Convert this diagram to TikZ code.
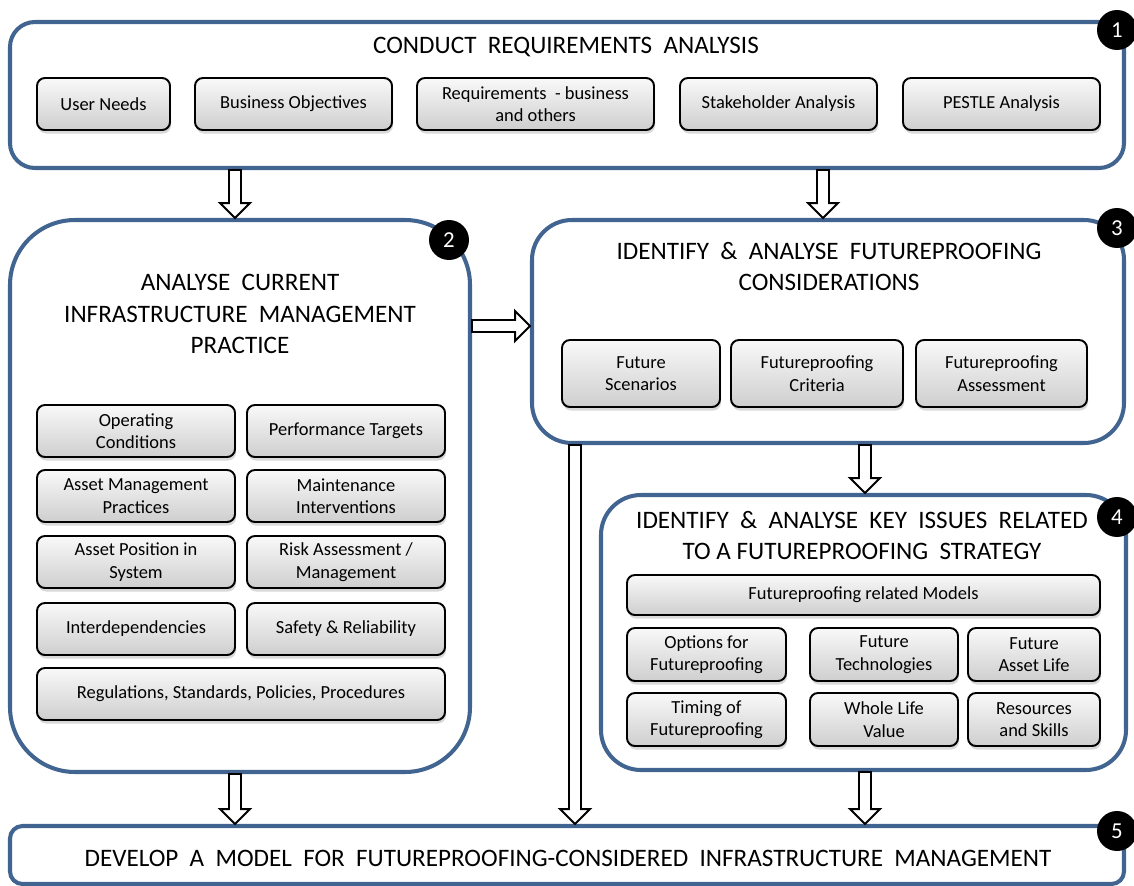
\documentclass[tikz,border=0pt]{standalone}
\usepackage{fontspec}
\setmainfont{Carlito}
\usepackage{tikz}
\usetikzlibrary{calc, shadows}
\definecolor{frameblue}{RGB}{65,100,145}

% wider gaps between words in the stage titles
\newcommand{\widewords}{\spaceskip=0.45em plus 0.1em\relax}

% hollow block arrows between two points
\newcommand{\blockdown}[2]{%
  \filldraw[hollow] let \p1=(#1), \p2=(#2) in
    (\x1-3.4pt,\y1) -- (\x1-3.4pt,\y2+8.5pt) -- (\x1-8.5pt,\y2+8.5pt) -- (\x1,\y2)
    -- (\x1+8.5pt,\y2+8.5pt) -- (\x1+3.4pt,\y2+8.5pt) -- (\x1+3.4pt,\y1) -- cycle;}
\newcommand{\blockright}[2]{%
  \filldraw[hollow] let \p1=(#1), \p2=(#2) in
    (\x1,\y1-3.4pt) -- (\x2-8.5pt,\y1-3.4pt) -- (\x2-8.5pt,\y1-8.5pt) -- (\x2,\y1)
    -- (\x2-8.5pt,\y1+8.5pt) -- (\x2-8.5pt,\y1+3.4pt) -- (\x1,\y1+3.4pt) -- cycle;}

\begin{document}
\begin{tikzpicture}[x=0.02cm, y=-0.02cm,
    boxsize/.style 2 args={minimum width=#1*0.02cm, minimum height=#2*0.02cm},
    frame/.style={draw=frameblue, line width=2.3pt, inner sep=0pt},
    stagetitle/.style={align=center, font=\fontsize{14.3}{17.8}\selectfont},
    sub/.style={draw, line width=1.1pt, rounded corners=4.5pt, top color=gray!5, bottom color=gray!38,
        drop shadow={shadow xshift=0.6pt, shadow yshift=-2pt, opacity=0.3},
        align=center, inner sep=1pt, font=\fontsize{10.5}{12.8}\selectfont},
    badge/.style={circle, fill=black, text=white, minimum size=0.8cm, inner sep=0pt, font=\fontsize{13}{13}\selectfont},
    hollow/.style={draw=black, fill=white, line width=1.1pt, line join=miter}
]
    \useasboundingbox (0,0) rectangle (1134,886);

    % Stage frames
    \node[frame, boxsize={1114}{146}, rounded corners=0.5cm] (stage1) at (567,95) {};
    \node[frame, boxsize={460}{552}, rounded corners=1.3cm] (stage2) at (240,496) {};
    \node[frame, boxsize={592}{223}, rounded corners=0.8cm] (stage3) at (828,331.5) {};
    \node[frame, boxsize={525}{275}, rounded corners=0.8cm] (stage4) at (863.5,632.5) {};
    \node[frame, boxsize={1114}{58}, rounded corners=0.25cm] (stage5) at (567,855) {};

    % Requirements analysis
    \node[stagetitle] (title1) at (566,47) {\widewords CONDUCT REQUIREMENTS ANALYSIS};
    \node[sub, boxsize={133}{52}] (needs) at (103.5,104) {User Needs};
    \node[sub, boxsize={197}{52}] (objectives) at (293.5,104) {Business Objectives};
    \node[sub, boxsize={237}{52}] (reqs) at (535.5,104) {Requirements \ - business\\and others};
    \node[sub, boxsize={197}{52}] (stakeholder) at (778.5,104) {Stakeholder Analysis};
    \node[sub, boxsize={197}{52}] (pestle) at (1001.5,104) {PESTLE Analysis};

    % Current practice
    \node[stagetitle] (title2) at (240,314) {\widewords ANALYSE CURRENT\\\widewords INFRASTRUCTURE MANAGEMENT\\PRACTICE};
    \node[sub, boxsize={198}{52}] (operating) at (136,431) {Operating\\Conditions};
    \node[sub, boxsize={198}{52}] (targets) at (346,431) {Performance Targets};
    \node[sub, boxsize={198}{52}] (practices) at (136,496) {Asset Management\\Practices};
    \node[sub, boxsize={198}{52}] (maintenance) at (346,496) {Maintenance\\Interventions};
    \node[sub, boxsize={198}{52}] (position) at (136,562) {Asset Position in\\System};
    \node[sub, boxsize={198}{52}] (risk) at (346,562) {Risk Assessment /\\Management};
    \node[sub, boxsize={198}{52}] (interdep) at (136,629) {Interdependencies};
    \node[sub, boxsize={198}{52}] (safety) at (346,629) {Safety \& Reliability};
    \node[sub, boxsize={408}{52}] (regulations) at (241,694) {Regulations, Standards, Policies, Procedures};

    % Futureproofing considerations
    \node[stagetitle] (title3) at (829,266.5) {\widewords IDENTIFY \& ANALYSE FUTUREPROOFING\\CONSIDERATIONS};
    \node[sub, boxsize={158}{67}] (scenarios) at (641,373.5) {Future\\Scenarios};
    \node[sub, boxsize={172}{67}] (criteria) at (817,373.5) {Futureproofing\\Criteria};
    \node[sub, boxsize={171}{67}] (assessment) at (1001.5,373.5) {Futureproofing\\Assessment};

    % Key issues
    \node[stagetitle] (title4) at (862,535.5) {\widewords IDENTIFY \& ANALYSE KEY ISSUES RELATED\\TO A FUTUREPROOFING\ \ STRATEGY};
    \node[sub, boxsize={473}{40}] (models) at (863.5,595) {Futureproofing related Models};
    \node[sub, boxsize={159}{53}] (options) at (706.5,654.5) {Options for\\Futureproofing};
    \node[sub, boxsize={148}{53}] (technologies) at (884,654.5) {Future\\Technologies};
    \node[sub, boxsize={132}{53}] (assetlife) at (1034,654.5) {Future\\Asset Life};
    \node[sub, boxsize={159}{53}] (timing) at (706.5,719.5) {Timing of\\Futureproofing};
    \node[sub, boxsize={148}{53}] (wholelife) at (884,719.5) {Whole Life\\Value};
    \node[sub, boxsize={132}{53}] (resources) at (1034,719.5) {Resources\\and Skills};

    % Model
    \node[stagetitle] (title5) at (568,858) {\widewords DEVELOP A MODEL FOR FUTUREPROOFING-CONSIDERED INFRASTRUCTURE MANAGEMENT};

    % Numbered badges
    \node[badge] (num1) at (1117,30) {1};
    \node[badge] (num2) at (449,240) {2};
    \node[badge] (num3) at (1117,228) {3};
    \node[badge] (num4) at (1117,517) {4};
    \node[badge] (num5) at (1117,831) {5};

    % Arrows
    \coordinate (colA) at (235,0);
    \coordinate (colB) at (823,0);
    \coordinate (colC) at (865,0);
    \coordinate (colD) at (575,0);
    \coordinate (rowA) at (0,326);
    \blockdown{colA |- stage1.south}{colA |- stage2.north}
    \blockdown{colB |- stage1.south}{colB |- stage3.north}
    \blockright{stage2.east |- rowA}{stage3.west |- rowA}
    \blockdown{colC |- stage3.south}{colC |- stage4.north}
    \blockdown{colD |- stage3.south}{colD |- stage5.north}
    \blockdown{colA |- stage2.south}{colA |- stage5.north}
    \blockdown{colC |- stage4.south}{colC |- stage5.north}
\end{tikzpicture}
\end{document}
